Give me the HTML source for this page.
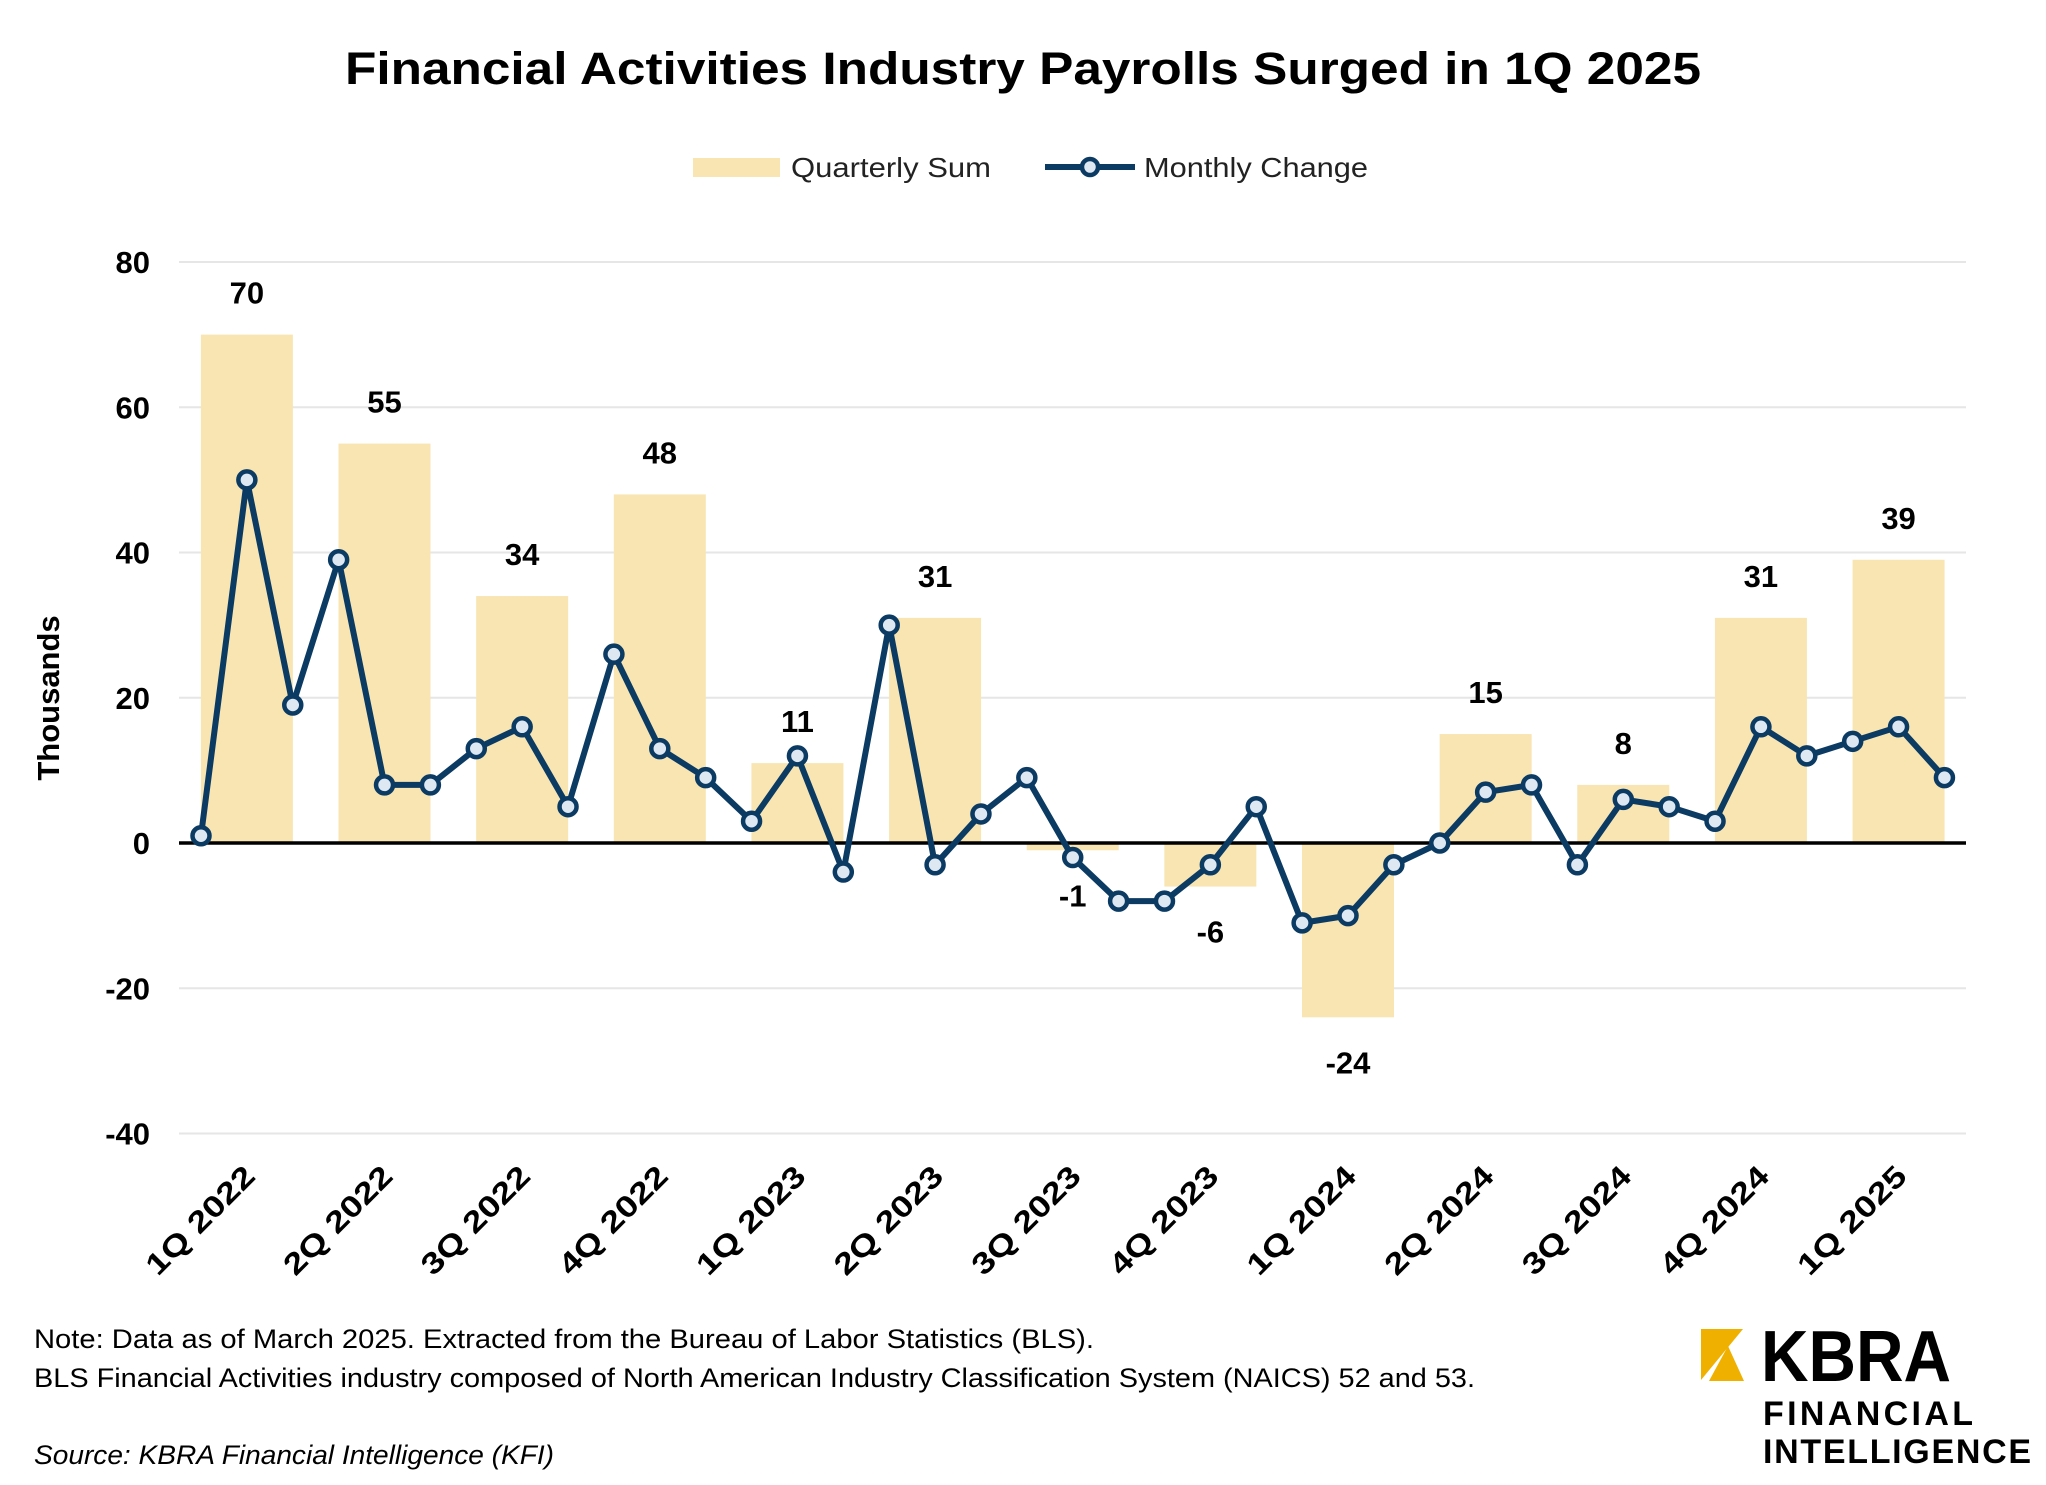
<!DOCTYPE html>
<html><head><meta charset="utf-8"><style>
html,body{margin:0;padding:0;background:#fff}
svg{display:block}
text{font-family:"Liberation Sans",sans-serif}
</style></head><body>
<svg id="c" width="2046" height="1485" viewBox="0 0 2046 1485" xmlns="http://www.w3.org/2000/svg">
<text x="1023" y="84" text-anchor="middle" font-size="45" font-weight="bold" textLength="1356" lengthAdjust="spacingAndGlyphs">Financial Activities Industry Payrolls Surged in 1Q 2025</text>
<rect x="693" y="158" width="87" height="19" fill="#f8e5b2"/>
<text x="791" y="177" font-size="28" fill="#222" textLength="200" lengthAdjust="spacingAndGlyphs">Quarterly Sum</text>
<line x1="1045" y1="167" x2="1135" y2="167" stroke="#0b3a63" stroke-width="6"/>
<circle cx="1090" cy="167" r="8" fill="#dde8f2" stroke="#0b3a63" stroke-width="4.5"/>
<text x="1144" y="177" font-size="28" fill="#222" textLength="224" lengthAdjust="spacingAndGlyphs">Monthly Change</text>
<text transform="translate(59,698) rotate(-90)" text-anchor="middle" font-size="31" font-weight="bold">Thousands</text>
<text x="34" y="1348" font-size="27" textLength="1060" lengthAdjust="spacingAndGlyphs">Note: Data as of March 2025. Extracted from the Bureau of Labor Statistics (BLS).</text>
<text x="34" y="1387" font-size="27" textLength="1441" lengthAdjust="spacingAndGlyphs">BLS Financial Activities industry composed of North American Industry Classification System (NAICS) 52 and 53.</text>
<text x="34" y="1464" font-size="27" font-style="italic" textLength="520" lengthAdjust="spacingAndGlyphs">Source: KBRA Financial Intelligence (KFI)</text>
<polygon points="1701,1329 1743,1329 1701,1380" fill="#f0b000"/>
<polygon points="1728,1346 1744,1381 1709,1381" fill="#f0b000"/>
<text x="1761" y="1381" font-size="72" font-weight="bold" textLength="190" lengthAdjust="spacingAndGlyphs">KBRA</text>
<text x="1763" y="1425" font-size="34" textLength="210" lengthAdjust="spacing" font-weight="bold">FINANCIAL</text>
<text x="1763" y="1463" font-size="34" textLength="268" lengthAdjust="spacing" font-weight="bold">INTELLIGENCE</text>
</svg>
<script>
var s=document.getElementById('c'),ns="http://www.w3.org/2000/svg";
function el(t,a,txt){var e=document.createElementNS(ns,t);for(var k in a)e.setAttribute(k,a[k]);if(txt!=null)e.textContent=txt;s.appendChild(e);return e;}
function Y(v){return 843-v*7.2625;}
function X(i){return 201+i*45.88;}
for(var v=-40;v<=80;v+=20){if(v!=0)el('line',{x1:179,x2:1966,y1:Y(v),y2:Y(v),stroke:'#e6e6e6','stroke-width':2});
el('text',{x:150,y:Y(v)+11,'text-anchor':'end','font-size':31,'font-weight':'bold'},String(v));}
var m=[1,50,19,39,8,8,13,16,5,26,13,9,3,12,-4,30,-3,4,9,-2,-8,-8,-3,5,-11,-10,-3,0,7,8,-3,6,5,3,16,12,14,16,9];
var q=[70,55,34,48,11,31,-1,-6,-24,15,8,31,39];
var lab=['1Q 2022','2Q 2022','3Q 2022','4Q 2022','1Q 2023','2Q 2023','3Q 2023','4Q 2023','1Q 2024','2Q 2024','3Q 2024','4Q 2024','1Q 2025'];
for(var i=0;i<13;i++){var cx=X(3*i+1),v=q[i];
el('rect',{x:cx-46,y:Math.min(Y(v),843),width:92,height:Math.abs(Y(v)-843),fill:'#f8e5b2'});
el('text',{x:cx,y:v>=0?Y(v)-31:Y(v)+56,'text-anchor':'middle','font-size':31,'font-weight':'bold'},String(v));
el('text',{transform:'translate('+(cx+10)+',1178) rotate(-45)','text-anchor':'end','font-size':30,'font-weight':'bold','textLength':140,'lengthAdjust':'spacingAndGlyphs'},lab[i]);}
el('line',{x1:179,x2:1966,y1:843,y2:843,stroke:'#000','stroke-width':3.5});
var p=m.map(function(v,i){return X(i)+','+Y(v)}).join(' ');
el('polyline',{points:p,fill:'none',stroke:'#0b3a63','stroke-width':6,'stroke-linejoin':'round'});
m.forEach(function(v,i){el('circle',{cx:X(i),cy:Y(v),r:8.5,fill:'#dde8f2',stroke:'#0b3a63','stroke-width':4.5});});
</script>
</body></html>
